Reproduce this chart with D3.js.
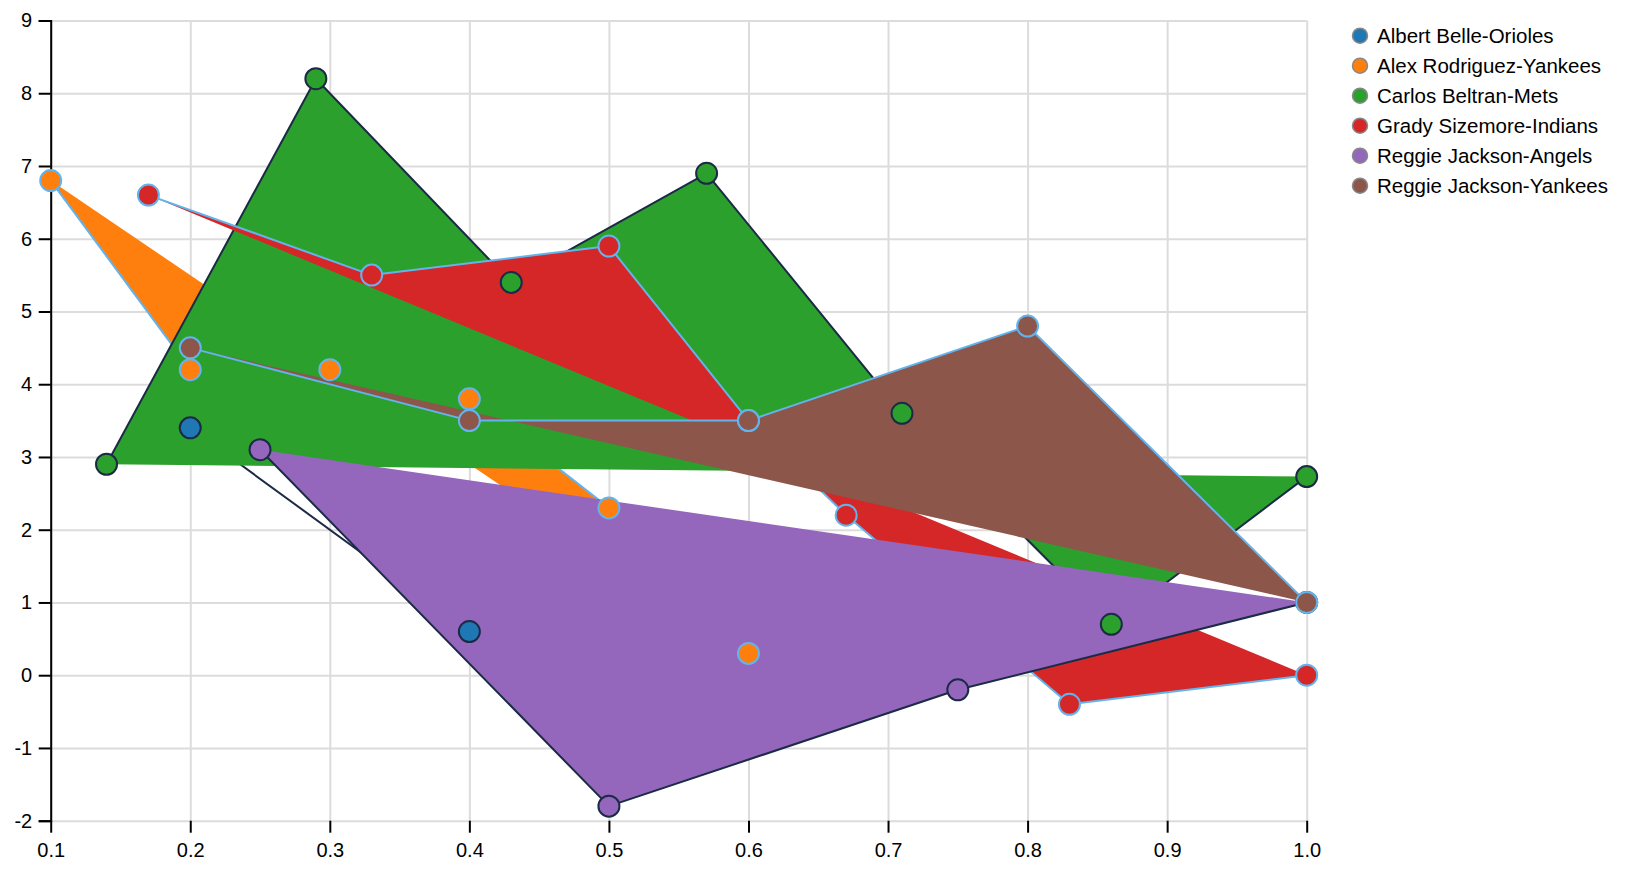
<!DOCTYPE html>
<html>
<head>
<meta charset="utf-8">
<script src="https://cdn.jsdelivr.net/npm/d3@7"></script>
<style>
  body { margin: 0; background: #fff; }
  svg text { font-family: "Liberation Sans", Arial, Helvetica, sans-serif; }
  .grid line { stroke: #dcdcdc; stroke-width: 2; }
  .grid .domain { display: none; }
</style>
</head>
<body>
<svg id="chart" width="1632" height="878"></svg>
<script>
// series, drawn bottom to top
const names = [
  "Albert Belle-Orioles",
  "Alex Rodriguez-Yankees",
  "Carlos Beltran-Mets",
  "Grady Sizemore-Indians",
  "Reggie Jackson-Angels",
  "Reggie Jackson-Yankees"
];

const belleX = [0.2, 0.4];
const belleY = [3.4, 0.6];

const rodriguezX = [0.1, 0.2, 0.3, 0.4, 0.5, 0.6];
const rodriguezY = [6.8, 4.2, 4.2, 3.8, 2.3, 0.3];

const beltranX = [0.14, 0.29, 0.43, 0.57, 0.71, 0.86, 1.0];
const beltranY = [2.9, 8.2, 5.4, 6.9, 3.6, 0.7, 2.73];

const sizemoreX = [0.17, 0.33, 0.5, 0.6, 0.67, 0.83, 1.0];
const sizemoreY = [6.6, 5.5, 5.9, 3.5, 2.2, -0.4, 0.0];

const angelsX = [0.25, 0.5, 0.75, 1.0];
const angelsY = [3.1, -1.8, -0.2, 1.0];

const yankeesX = [0.2, 0.4, 0.6, 0.8, 1.0];
const yankeesY = [4.5, 3.5, 3.5, 4.8, 1.0];

const xTicks = [0.1, 0.2, 0.3, 0.4, 0.5, 0.6, 0.7, 0.8, 0.9, 1.0];
const yTicks = [-2, -1, 0, 1, 2, 3, 4, 5, 6, 7, 8, 9];

const xs = [belleX, rodriguezX, beltranX, sizemoreX, angelsX, yankeesX];
const ys = [belleY, rodriguezY, beltranY, sizemoreY, angelsY, yankeesY];

const series = names.map((name, i) => ({
  name: name,
  points: xs[i].map((x, j) => ({ x: x, y: ys[i][j] }))
}));

const margin = { top: 20.5, left: 50.7 };
const width = 1256, height = 800.2;

const svg = d3.select("#chart");
const g = svg.append("g")
  .attr("transform", `translate(${margin.left},${margin.top})`);

const x = d3.scaleLinear().domain([0.1, 1.0]).range([0, width]);
const y = d3.scaleLinear().domain([-2, 9]).range([height, 0]);

const color = d3.scaleOrdinal().domain(names).range(d3.schemeCategory10);
// alternating outline colours
const outline = (i) => i % 2 === 0 ? "#1b2a45" : "#63b3ed";

// grid
g.append("g")
  .attr("class", "grid")
  .attr("transform", `translate(0,${height})`)
  .call(d3.axisBottom(x).tickValues(xTicks).tickSize(-height).tickFormat(""));
g.append("g")
  .attr("class", "grid")
  .call(d3.axisLeft(y).tickValues(yTicks).tickSize(-width).tickFormat(""));

// x axis: ticks and labels only
const xAxis = g.append("g")
  .attr("transform", `translate(0,${height})`)
  .call(d3.axisBottom(x).tickValues(xTicks).tickSize(12).tickPadding(10).tickFormat(d3.format(".1f")));
xAxis.select(".domain").remove();
xAxis.selectAll(".tick line").attr("stroke", "#000").attr("stroke-width", 2);
xAxis.selectAll("text").attr("font-size", "20px").attr("fill", "#000");

// y axis (plain hyphen for negatives)
const yAxis = g.append("g")
  .call(d3.axisLeft(y).tickValues(yTicks).tickSize(12).tickPadding(6.5).tickFormat(d => String(d)));
yAxis.select(".domain").attr("stroke", "#000").attr("stroke-width", 2);
yAxis.selectAll(".tick line").attr("stroke", "#000").attr("stroke-width", 2);
yAxis.selectAll("text").attr("font-size", "20px").attr("fill", "#000");

// areas: open path, fill closes it, stroke does not
const line = d3.line().x(d => x(d.x)).y(d => y(d.y));

g.append("g")
  .selectAll("path")
  .data(series)
  .enter()
  .append("path")
  .attr("d", d => line(d.points))
  .attr("fill", d => color(d.name))
  .attr("stroke", (d, i) => outline(i))
  .attr("stroke-width", 2)
  .attr("stroke-linejoin", "round");

// points on top of all areas
const dots = g.append("g");
series.forEach((s, i) => {
  dots.append("g")
    .selectAll("circle")
    .data(s.points)
    .enter()
    .append("circle")
    .attr("cx", d => x(d.x))
    .attr("cy", d => y(d.y))
    .attr("r", 10.5)
    .attr("fill", color(s.name))
    .attr("stroke", outline(i))
    .attr("stroke-width", 2);
});

// legend
const legend = svg.append("g").attr("transform", "translate(1360,35.7)");
const item = legend.selectAll("g")
  .data(names)
  .enter()
  .append("g")
  .attr("transform", (d, i) => `translate(0,${i * 30})`);
item.append("circle")
  .attr("r", 7.5)
  .attr("fill", d => color(d))
  .attr("stroke", "#888")
  .attr("stroke-width", 1.5);
item.append("text")
  .attr("x", 17)
  .attr("dy", "0.35em")
  .attr("font-size", "20.5px")
  .attr("fill", "#000")
  .text(d => d);
</script>
</body>
</html>
